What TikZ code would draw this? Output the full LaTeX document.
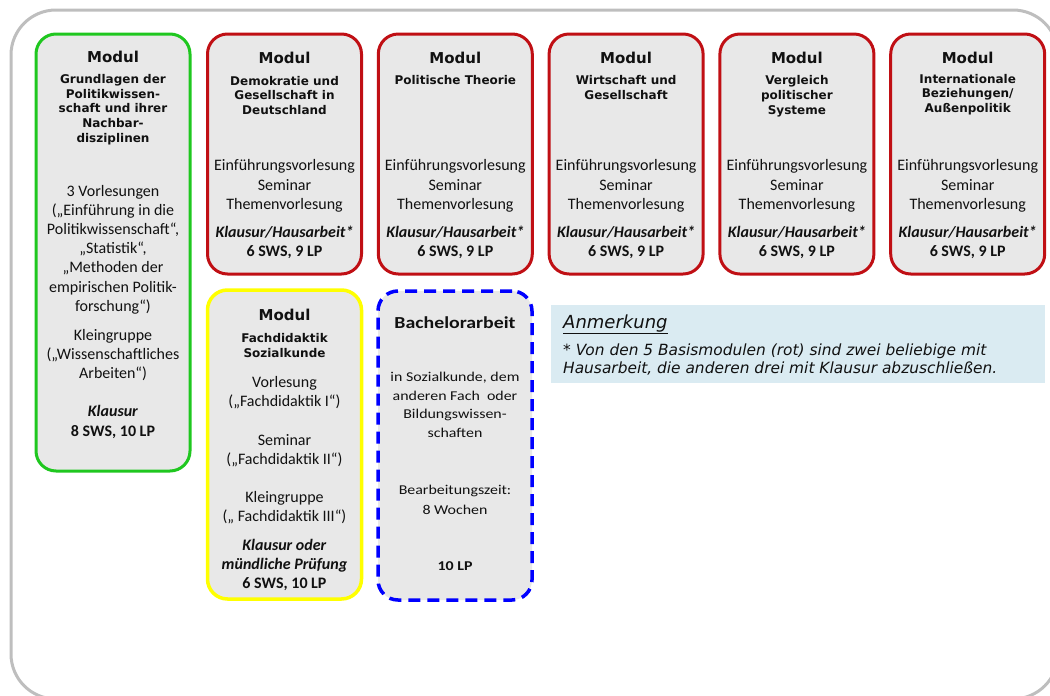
\documentclass[tikz,border=0pt]{standalone}
\usepackage{fontspec}
\setmainfont{Carlito}
\newfontfamily\vfont{DejaVu Sans}
\newfontfamily\wfont[FakeStretch=1.18]{Carlito}
\definecolor{framegray}{HTML}{BEBEBE}
\definecolor{boxfill}{HTML}{E8E8E8}
\definecolor{grn}{HTML}{1FC71F}
\definecolor{rd}{HTML}{C00F14}
\definecolor{yl}{HTML}{FFFF00}
\definecolor{bl}{HTML}{0000FF}
\definecolor{notefill}{HTML}{DAEBF2}
\definecolor{ink}{HTML}{111111}
\tikzset{
  modbox/.style={rounded corners=20pt, fill=boxfill, line width=3pt, inner sep=0pt},
  modhead/.style={font=\vfont\bfseries\fontsize{15}{18}\selectfont, text=ink, inner sep=0pt},
  modtitle/.style={font=\vfont\bfseries\fontsize{12}{14.75}\selectfont, align=center, text=ink, inner sep=0pt},
  bodytext/.style={font=\fontsize{16}{19.2}\selectfont, align=center, text=ink, inner sep=0pt},
  examtext/.style={font=\fontsize{16}{19.5}\selectfont, align=center, text=ink, inner sep=0pt},
  batext/.style={font=\wfont\fontsize{13.5}{18.7}\selectfont, align=center, text=ink, inner sep=0pt},
  notetext/.style={anchor=base west, inner sep=0pt, text=ink, font=\vfont\itshape\fontsize{15.4}{18}\selectfont},
}
\begin{document}
\begin{tikzpicture}[x=1pt,y=-1pt]
\useasboundingbox (0,0) rectangle (1050,696);
\clip (0,0) rectangle (1050,696);
% outer frame
\draw[framegray, line width=3pt, rounded corners=45pt] (11,10) rectangle (1058,699);

% green module
\node[modbox, draw=grn, minimum width=154pt, minimum height=437pt] (gbox) at (113,252.5) {};
\node[modhead] (gM) at (113,57) {Modul};
\node[modtitle] (gT) at (113,109.5) {Grundlagen der\\Politikwissen-\\schaft und ihrer\\Nachbar-\\disziplinen};
\node[bodytext] (gB1) at (113,249.5) {3 Vorlesungen\\(„Einführung in die\\Politikwissenschaft“,\\„Statistik“,\\„Methoden der\\empirischen Politik-\\forschung“)};
\node[bodytext] (gB2) at (113,355) {Kleingruppe\\(„Wissenschaftliches\\Arbeiten“)};
\node[examtext] (gE) at (113,422) {\textbf{\textit{Klausur}}\\\textbf{8 SWS, 10 LP}};

% red modules
\foreach \i/\cx/\ty/\ttl in {
  1/284.5/95.5/{Demokratie und\\Gesellschaft in\\Deutschland},
  2/455.3/80/{Politische Theorie},
  3/626.1/87.5/{Wirtschaft und\\Gesellschaft},
  4/796.9/96/{Vergleich\\politischer\\Systeme},
  5/967.7/94.5/{Internationale\\Beziehungen/\\Außenpolitik}} {
  \node[modbox, draw=rd, minimum width=154pt, minimum height=240pt] (r\i box) at (\cx,154) {};
  \node[modhead] (r\i M) at (\cx,58) {Modul};
  \node[modtitle] (r\i T) at (\cx,\ty) {\ttl};
  \node[bodytext] (r\i B) at (\cx,186) {Einführungsvorlesung\\Seminar\\Themenvorlesung};
  \node[examtext] (r\i E) at (\cx,242.5) {\textbf{\textit{Klausur/Hausarbeit*}}\\\textbf{6 SWS, 9 LP}};
}

% yellow module
\node[modbox, draw=yl, line width=3.5pt, minimum width=154pt, minimum height=309pt] (ybox) at (284.5,444.5) {};
\node[modhead] (yM) at (284.5,315) {Modul};
\node[modtitle] (yT) at (284.5,345.5) {Fachdidaktik\\Sozialkunde};
\node[bodytext] (yB1) at (284.5,393) {Vorlesung\\(„Fachdidaktik I“)};
\node[bodytext] (yB2) at (284.5,450.5) {Seminar\\(„Fachdidaktik II“)};
\node[bodytext] (yB3) at (284.5,508) {Kleingruppe\\(„ Fachdidaktik III“)};
\node[examtext, font=\fontsize{16}{19}\selectfont] (yE) at (284.5,565) {\textbf{\textit{Klausur oder}}\\\textbf{\textit{mündliche Prüfung}}\\\textbf{6 SWS, 10 LP}};

% blue dashed: Bachelorarbeit
\node[modbox, draw=bl, line width=3.5pt, dash pattern=on 12pt off 7pt, minimum width=154pt, minimum height=309pt] (bbox) at (455,445.5) {};
\node[batext, font=\wfont\bfseries\fontsize{16.8}{20}\selectfont] (bT) at (455,323) {Bachelorarbeit};
\node[batext] (bB1) at (455,405) {in Sozialkunde, dem\\anderen Fach\ \ oder\\Bildungswissen-\\schaften};
\node[batext, font=\wfont\fontsize{13.5}{20}\selectfont] (bB2) at (455,500) {Bearbeitungszeit:\\8 Wochen};
\node[batext, font=\wfont\bfseries\fontsize{13.5}{20}\selectfont] (bE) at (455,566) {10 LP};

% note
\node[fill=notefill, minimum width=494pt, minimum height=78pt, inner sep=0pt, anchor=north west] (note) at (551,305) {};
\node[notetext, font=\vfont\itshape\fontsize{18}{20}\selectfont] (noteH) at (563,328) {\underline{Anmerkung}};
\node[notetext] (noteT1) at (563,355) {* Von den 5 Basismodulen (rot) sind zwei beliebige mit};
\node[notetext] (noteT2) at (563,373) {Hausarbeit, die anderen drei mit Klausur abzuschließen.};
\end{tikzpicture}
\end{document}
